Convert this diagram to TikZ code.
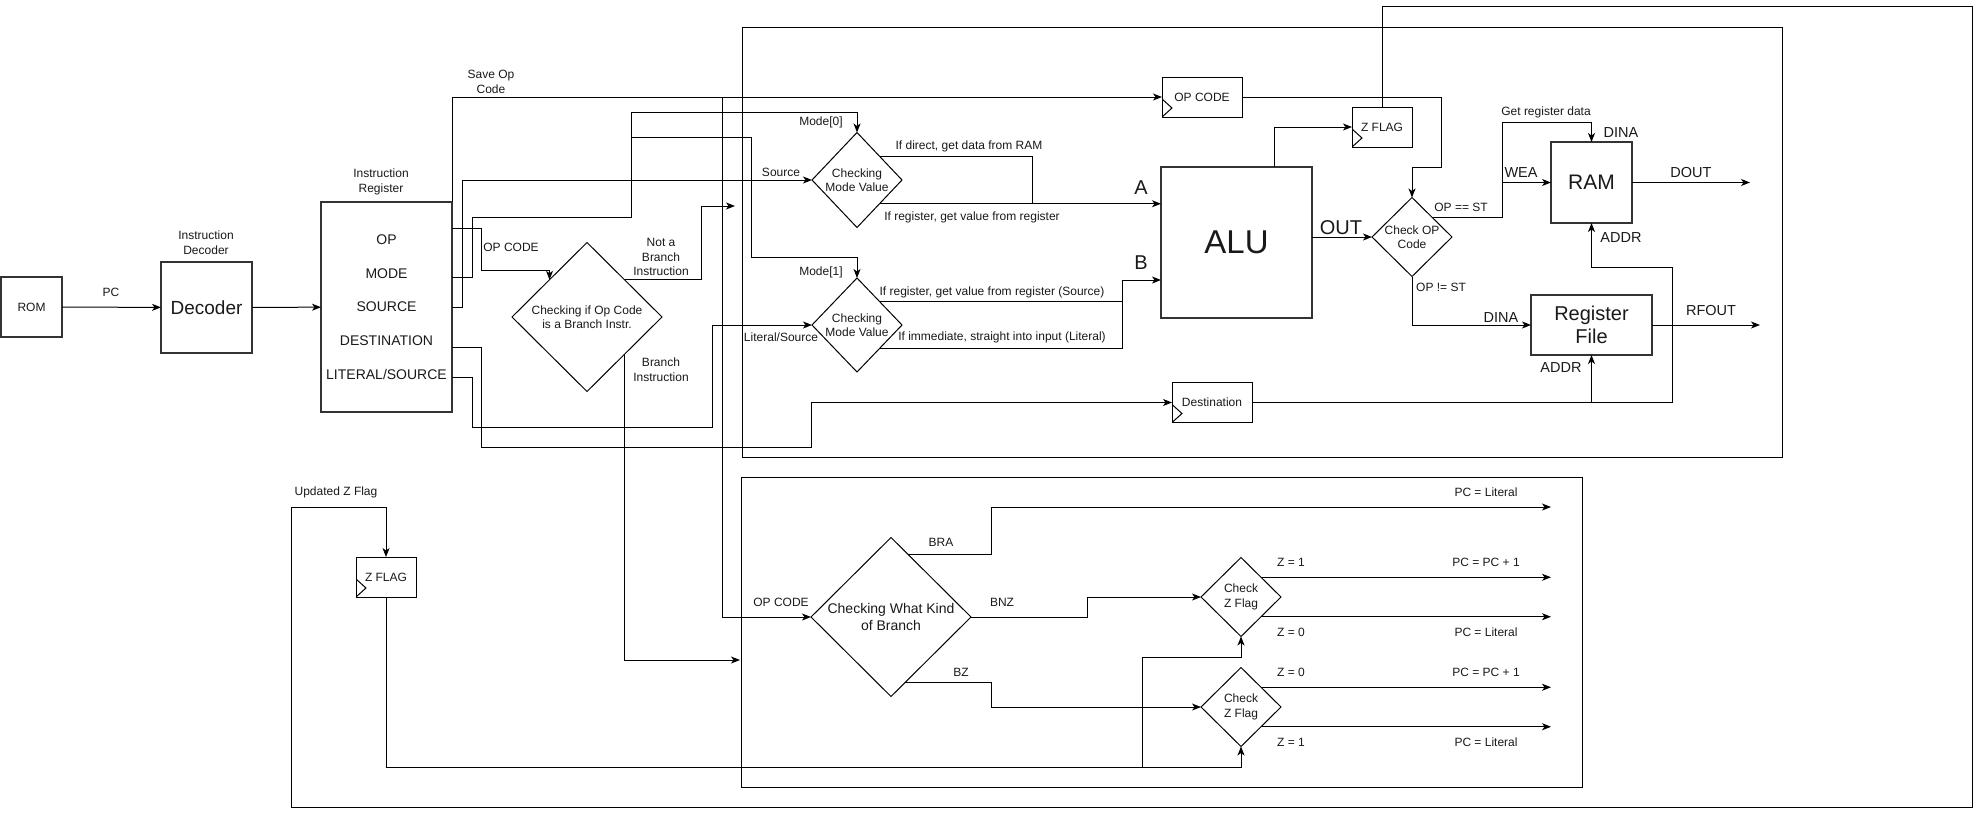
\documentclass[tikz,border=0pt]{standalone}
\usepackage{fontspec}
\setmainfont{Liberation Sans}
\usetikzlibrary{shapes.geometric,arrows.meta,calc}
\begin{document}
\begin{tikzpicture}[x=1pt,y=-1pt,
  every node/.style={inner sep=0pt,outer sep=0pt,text=black!90},
  fa/.style={font=\fontsize{12}{14.5}\selectfont},
  fb/.style={font=\fontsize{14}{17}\selectfont},
  fc/.style={font=\fontsize{14.5}{17}\selectfont},
  big/.style={font=\fontsize{20}{22}\selectfont},
  lbl/.style={align=center,fa},
  wire/.style={draw=black,line width=1pt},
  arr/.style={wire,-{Stealth[length=9pt,width=7pt,inset=2.5pt]}},
  blk/.style={draw=black!80,line width=2.5pt,rectangle,align=center},
  dmd/.style={draw=black,line width=1pt,diamond},
  reg/.style={draw=black,line width=1pt,rectangle,fa,
    path picture={\draw[black,line width=1pt] ([yshift=18pt]path picture bounding box.south west) -- ++(10pt,-9pt) -- ++(-10pt,-9pt);}},
]
\useasboundingbox (0,0) rectangle (1980,816);

% containers
\draw[wire] (742,28) rectangle (1782,457);
\draw[wire] (741,477) rectangle (1582,787);

% blocks
\node[blk,fa,minimum width=61pt,minimum height=60pt] (rom) at (31.5,307) {ROM};
\node[blk,font=\fontsize{19}{22}\selectfont,minimum width=91pt,minimum height=91pt] (dec) at (206.5,307.5) {Decoder};
\node[blk,minimum width=131pt,minimum height=210pt] (ir) at (386.5,307) {};
\node[fb] (irop) at (386.5,240) {OP};
\node[fb] (irmode) at (386.5,274) {MODE};
\node[fb] (irsrc) at (386.5,307) {SOURCE};
\node[fb] (irdst) at (386.5,341) {DESTINATION};
\node[fb] (irlit) at (386.5,374) {LITERAL/SOURCE};
\node[blk,font=\fontsize{33}{36}\selectfont,minimum width=151pt,minimum height=151pt] (alu) at (1236.5,242.5) {ALU};
\node[blk,font=\fontsize{21}{24}\selectfont,minimum width=81pt,minimum height=81pt] (ram) at (1591.5,182.5) {RAM};
\node[blk,font=\fontsize{20}{23}\selectfont,minimum width=121pt,minimum height=60pt] (rf) at (1591.5,325) {Register\\File};

% registers
\node[reg,minimum width=80pt,minimum height=40pt] (opreg) at (1202,97) {OP CODE};
\node[reg,minimum width=60pt,minimum height=40pt] (zf) at (1382,127) {Z FLAG};
\node[reg,minimum width=80pt,minimum height=40pt] (dest) at (1212,402.5) {Destination};
\node[reg,minimum width=60pt,minimum height=40pt] (zf2) at (386,577) {Z FLAG};

% diamonds
\node[dmd,minimum width=150pt,minimum height=149pt] (bc) at (587,317) {};
\node[lbl] (bct) at (bc) {Checking if Op Code\\is a Branch Instr.};
\node[dmd,minimum width=90pt,minimum height=95pt] (m0) at (857,180) {};
\node[lbl] (m0t) at (m0) {Checking\\Mode Value};
\node[dmd,minimum width=90pt,minimum height=94pt] (m1) at (857,325) {};
\node[lbl] (m1t) at (m1) {Checking\\Mode Value};
\node[dmd,minimum width=80pt,minimum height=79pt] (cop) at (1412,237) {};
\node[lbl] (copt) at (cop) {Check OP\\Code};
\node[dmd,minimum width=160pt,minimum height=159pt] (bk) at (891,617) {};
\node[align=center,fb] (bkt) at (bk) {Checking What Kind\\of Branch};
\node[dmd,minimum width=80pt,minimum height=79pt] (cz1) at (1241,597) {};
\node[lbl] (cz1t) at (cz1) {Check\\Z Flag};
\node[dmd,minimum width=80pt,minimum height=79pt] (cz2) at (1241,707) {};
\node[lbl] (cz2t) at (cz2) {Check\\Z Flag};

% free ends
\coordinate (nbEnd) at (735,206);
\coordinate (biEnd) at (740,660);
\coordinate (doutEnd) at (1750,182.5);
\coordinate (rfoutEnd) at (1760,325);
\coordinate (pcA) at (1551,507);

% connectors, left part
\draw[arr] (rom) -- (dec);
\draw[arr] (dec) -- (ir);
\draw[arr] (ir.north east) |- (opreg.west);
\draw[arr] (722,97) |- (bk.west);
\draw[arr] (ir.east |- 0,228) -- (481,228) -- (481,270) -| (bc.north west);
\draw[arr] (ir.east |- 0,277) -- (472,277) -- (472,217) -- (631,217) -- (631,112) -| (m0.north);
\draw[arr] (631,137) -- (751,137) -- (751,257) -| (m1.north);
\draw[arr] (ir.east |- 0,307) -- (462,307) |- (m0.west);
\draw[arr] (ir.east |- 0,347) -- (481,347) -- (481,447) -- (811,447) |- (dest.west);
\draw[arr] (ir.east |- 0,377) -- (472,377) -- (472,427) -- (712,427) |- (m1.west);
\draw[arr] (bc.north east) -| (701,206) -- (nbEnd);
\draw[arr] (bc.south east) |- (biEnd);

% mode outputs
\draw[wire] (m0.north east) -| (1032,203.75);
\draw[arr] (m0.south east) -- (alu.west |- m0.south east);
\draw[wire] (m1.north east) -- (1122,301.5);
\draw[arr] (m1.south east) -| (1122,280) -- (alu.west |- 0,280);

% ALU area
\draw[arr] (alu.north -| 1274,0) |- (zf.west);
\draw[arr] (alu.east |- cop.west) -- (cop.west);
\draw[arr] (opreg.east) -| (1441,167) -| (cop.north);
\draw[arr] (cop.north east) -| (1502,122) -| (ram.north);
\draw[arr] (1502,182.5) -- (ram.west);
\draw[arr] (cop.south) |- (rf.west);
\draw[arr] (ram.east) -- (doutEnd);
\draw[arr] (rf.east) -- (rfoutEnd);
\draw[arr] (dest.east) -| (1672,267) -| (ram.south);
\draw[arr] (rf.south |- dest.east) -- (rf.south);

% Z flag loop
\draw[arr] (zf.north) -- (1382,7) -- (1972,7) -- (1972,807) -- (291,807) -- (291,507) -| (zf2.north);
\draw[arr] (zf2.south) -- (zf2.south |- 0,767) -| (cz2.south);
\draw[arr] (1142,767) -- (1142,657) -| (cz1.south);

% branch kinds
\draw[arr] ($(bk.north)!0.21!(bk.east)$) -| (991,507) -- (pcA);
\draw[arr] (bk.east) -| (1087,597) -- (cz1.west);
\draw[arr] ($(bk.south)!0.17!(bk.east)$) -| (991,707) -- (cz2.west);
\draw[arr] (cz1.north east) -- (cz1.north east -| pcA);
\draw[arr] (cz1.south east) -- (cz1.south east -| pcA);
\draw[arr] (cz2.north east) -- (cz2.north east -| pcA);
\draw[arr] (cz2.south east) -- (cz2.south east -| pcA);

% labels
\node[lbl] (tpc) at (111,292) {PC};
\node[lbl] (tdec) at (206,242.5) {Instruction\\Decoder};
\node[lbl] (tir) at (381,182) {Instruction\\Register};
\node[lbl] (tsave) at (491,82) {Save Op\\Code};
\node[lbl] (topc1) at (511,247) {OP CODE};
\node[lbl] (tnab) at (661,257) {Not a\\Branch\\Instruction};
\node[lbl] (tbi) at (661,369.5) {Branch\\Instruction};
\node[lbl] (tm0) at (821,122) {Mode[0]};
\node[lbl] (tm1) at (821,272) {Mode[1]};
\node[lbl] (tsrc) at (781,172) {Source};
\node[lbl] (tlit) at (781,337) {Literal/Source};
\node[lbl] (tdir) at (969,146) {If direct, get data from RAM};
\node[lbl] (treg0) at (972,217) {If register, get value from register};
\node[lbl] (treg1) at (992,292) {If register, get value from register (Source)};
\node[lbl] (timm) at (1002,337) {If immediate, straight into input (Literal)};
\node[big] (ta) at (1141,188) {A};
\node[big] (tb) at (1141,263) {B};
\node[big] (tout) at (1341,228) {OUT};
\node[lbl] (teq) at (1461,207) {OP == ST};
\node[lbl] (tne) at (1441,287) {OP != ST};
\node[lbl] (tget) at (1546,112) {Get register data};
\node[fc] (tdina1) at (1621,133) {DINA};
\node[fc] (twea) at (1521,173) {WEA};
\node[fc] (tdout) at (1691,173) {DOUT};
\node[fc] (taddr1) at (1621,238) {ADDR};
\node[fc] (tdina2) at (1501,318) {DINA};
\node[fc] (taddr2) at (1561,368) {ADDR};
\node[fc] (trfout) at (1711,311) {RFOUT};
\node[lbl] (tupd) at (336,492) {Updated Z Flag};
\node[lbl] (topc2) at (781,602) {OP CODE};
\node[lbl] (tbra) at (941,542) {BRA};
\node[lbl] (tbnz) at (1002,602) {BNZ};
\node[lbl] (tbz) at (961,672) {BZ};
\node[lbl] (tpcl0) at (1486,492) {PC = Literal};
\node[lbl] (tz1a) at (1291,562) {Z = 1};
\node[lbl] (tpc1a) at (1486,562) {PC = PC + 1};
\node[lbl] (tz0a) at (1291,632) {Z = 0};
\node[lbl] (tpcl1) at (1486,632) {PC = Literal};
\node[lbl] (tz0b) at (1291,672) {Z = 0};
\node[lbl] (tpc1b) at (1486,672) {PC = PC + 1};
\node[lbl] (tz1b) at (1291,742) {Z = 1};
\node[lbl] (tpcl2) at (1486,742) {PC = Literal};
\end{tikzpicture}
\end{document}
